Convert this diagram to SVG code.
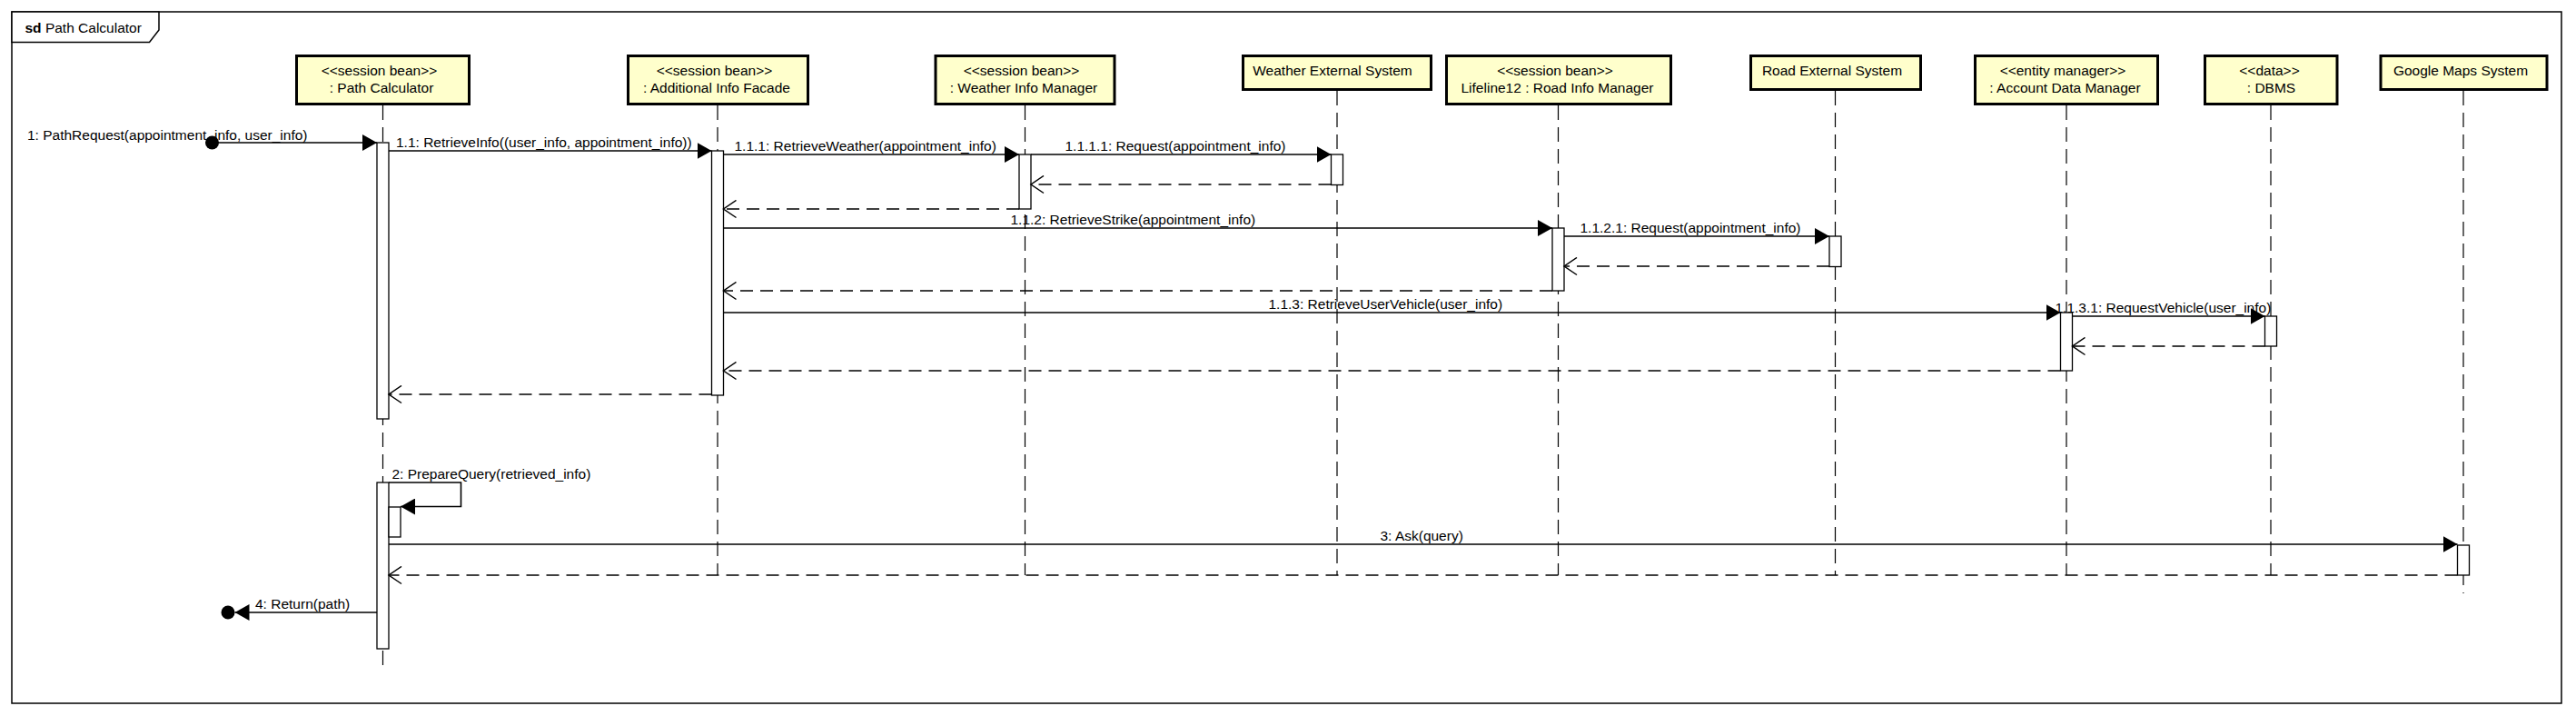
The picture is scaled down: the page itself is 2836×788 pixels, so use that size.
<svg xmlns="http://www.w3.org/2000/svg" width="2836" height="788" viewBox="0 0 2836 788">
<style>
text{font-family:"Liberation Sans",Arial,sans-serif;font-size:15.5px;fill:#000}
.lbl{text-anchor:middle}
.box{fill:#ffffcc;stroke:#000;stroke-width:3}
.life{stroke:#000;stroke-width:1.2;stroke-dasharray:16 8;fill:none}
.act{fill:#fff;stroke:#000;stroke-width:1.3}
.msg{stroke:#000;stroke-width:1.6;fill:none;marker-end:url(#filled)}
.ret{stroke:#000;stroke-width:1.6;fill:none;stroke-dasharray:14 8;marker-end:url(#open)}
.dot{fill:#000}
</style>
<defs>
<marker id="filled" markerUnits="userSpaceOnUse" viewBox="0 0 16 18" refX="16" refY="9" markerWidth="16" markerHeight="18" orient="auto">
<path d="M0,0 L16,9 L0,18 z" fill="#000"/>
</marker>
<marker id="open" markerUnits="userSpaceOnUse" viewBox="-1 -1 17 21" refX="14" refY="9.5" markerWidth="17" markerHeight="21" orient="auto">
<path d="M0,0 L14,9.5 L0,19" fill="none" stroke="#000" stroke-width="1.5"/>
</marker>
</defs>
<rect width="2836" height="788" fill="#fff"/>
<g id="frame">
<rect x="13" y="13" width="2807" height="761" fill="none" stroke="#000" stroke-width="1.5"/>
<path d="M13,13 L175,13 L175,33 L164.5,46.5 L13,46.5 z" fill="#fff" stroke="#000" stroke-width="1.5"/>
<text x="27.5" y="36"><tspan font-weight="bold">sd</tspan> Path Calculator</text>
</g>
<g id="lifelines">
<line class="life" x1="421.5" y1="116" x2="421.5" y2="732"/>
<line class="life" x1="790" y1="116" x2="790" y2="633"/>
<line class="life" x1="1128.5" y1="116" x2="1128.5" y2="633"/>
<line class="life" x1="1472" y1="100" x2="1472" y2="633"/>
<line class="life" x1="1715.5" y1="116" x2="1715.5" y2="633"/>
<line class="life" x1="2020.5" y1="100" x2="2020.5" y2="633"/>
<line class="life" x1="2275" y1="116" x2="2275" y2="633"/>
<line class="life" x1="2500" y1="116" x2="2500" y2="633"/>
<line class="life" x1="2712" y1="100" x2="2712" y2="653"/>
</g>
<g id="node-path-calculator">
<rect class="box" x="326.5" y="61.5" width="190" height="53"/>
<text class="lbl" x="417.5" y="83">&lt;&lt;session bean&gt;&gt;</text>
<text class="lbl" x="420" y="102">: Path Calculator</text>
<rect class="act" x="415" y="157" width="13" height="304"/>
<rect class="act" x="415" y="531" width="13" height="183"/>
<rect class="act" x="428" y="558" width="13" height="33"/>
</g>
<g id="node-additional-info-facade">
<rect class="box" x="691.5" y="61.5" width="198" height="53"/>
<text class="lbl" x="786.5" y="83">&lt;&lt;session bean&gt;&gt;</text>
<text class="lbl" x="789" y="102">: Additional Info Facade</text>
<rect class="act" x="783.5" y="166" width="13" height="269"/>
</g>
<g id="node-weather-info-manager">
<rect class="box" x="1030" y="61.5" width="197" height="53"/>
<text class="lbl" x="1124.5" y="83">&lt;&lt;session bean&gt;&gt;</text>
<text class="lbl" x="1127" y="102">: Weather Info Manager</text>
<rect class="act" x="1122" y="170" width="13" height="60"/>
</g>
<g id="node-weather-external-system">
<rect class="box" x="1368.5" y="61.5" width="207" height="37"/>
<text class="lbl" x="1467" y="83">Weather External System</text>
<rect class="act" x="1465.5" y="170" width="13" height="33.5"/>
</g>
<g id="node-road-info-manager">
<rect class="box" x="1592.5" y="61.5" width="247" height="53"/>
<text class="lbl" x="1712" y="83">&lt;&lt;session bean&gt;&gt;</text>
<text class="lbl" x="1714.5" y="102">Lifeline12 : Road Info Manager</text>
<rect class="act" x="1709" y="251" width="13" height="69"/>
</g>
<g id="node-road-external-system">
<rect class="box" x="1927.5" y="61.5" width="187" height="37"/>
<text class="lbl" x="2017" y="83">Road External System</text>
<rect class="act" x="2014" y="260" width="13" height="33.5"/>
</g>
<g id="node-account-data-manager">
<rect class="box" x="2174.5" y="61.5" width="201" height="53"/>
<text class="lbl" x="2271" y="83">&lt;&lt;entity manager&gt;&gt;</text>
<text class="lbl" x="2273.5" y="102">: Account Data Manager</text>
<rect class="act" x="2268.5" y="344" width="13" height="64"/>
</g>
<g id="node-dbms">
<rect class="box" x="2427.5" y="61.5" width="145.5" height="53"/>
<text class="lbl" x="2498.5" y="83">&lt;&lt;data&gt;&gt;</text>
<text class="lbl" x="2500.5" y="102">: DBMS</text>
<rect class="act" x="2493.5" y="348" width="13" height="33"/>
</g>
<g id="node-google-maps-system">
<rect class="box" x="2621" y="61.5" width="183" height="37"/>
<text class="lbl" x="2709" y="83">Google Maps System</text>
<rect class="act" x="2705.5" y="600" width="13" height="33"/>
</g>
<g id="connectors">
<circle class="dot" cx="233.5" cy="157" r="7.5"/>
<line class="msg" x1="233.5" y1="157" x2="415" y2="157"/>
<text x="30" y="154">1: PathRequest(appointment_info, user_info)</text>
<line class="msg" x1="428" y1="166" x2="783.5" y2="166"/>
<text x="436" y="162">1.1: RetrieveInfo((user_info, appointment_info))</text>
<line class="msg" x1="796.5" y1="170" x2="1122" y2="170"/>
<text x="808.5" y="166">1.1.1: RetrieveWeather(appointment_info)</text>
<line class="msg" x1="1135" y1="170" x2="1465.5" y2="170"/>
<text x="1172.5" y="166">1.1.1.1: Request(appointment_info)</text>
<line class="ret" x1="1465.5" y1="203" x2="1135" y2="203"/>
<line class="ret" x1="1122" y1="230" x2="796.5" y2="230"/>
<line class="msg" x1="796.5" y1="251" x2="1709" y2="251"/>
<text x="1112.5" y="247">1.1.2: RetrieveStrike(appointment_info)</text>
<line class="msg" x1="1722" y1="260" x2="2014" y2="260"/>
<text x="1739.5" y="256">1.1.2.1: Request(appointment_info)</text>
<line class="ret" x1="2014" y1="293" x2="1722" y2="293"/>
<line class="ret" x1="1709" y1="320" x2="796.5" y2="320"/>
<line class="msg" x1="796.5" y1="344" x2="2268.5" y2="344"/>
<text x="1396.5" y="340">1.1.3: RetrieveUserVehicle(user_info)</text>
<line class="msg" x1="2281.5" y1="348" x2="2493.5" y2="348"/>
<text x="2262.5" y="344">1.1.3.1: RequestVehicle(user_info)</text>
<line class="ret" x1="2493.5" y1="381" x2="2281.5" y2="381"/>
<line class="ret" x1="2268.5" y1="408" x2="796.5" y2="408"/>
<line class="ret" x1="783.5" y1="434" x2="428" y2="434"/>
<polyline class="msg" points="428,531 507.5,531 507.5,557.5 441,557.5"/>
<text x="431.5" y="527">2: PrepareQuery(retrieved_info)</text>
<line class="msg" x1="428" y1="599" x2="2705.5" y2="599"/>
<text x="1519.5" y="595">3: Ask(query)</text>
<line class="ret" x1="2705.5" y1="633" x2="428" y2="633"/>
<line class="msg" x1="415" y1="674" x2="258.5" y2="674"/>
<circle class="dot" cx="251" cy="674" r="7.5"/>
<text x="281" y="670">4: Return(path)</text>
</g>
</svg>
